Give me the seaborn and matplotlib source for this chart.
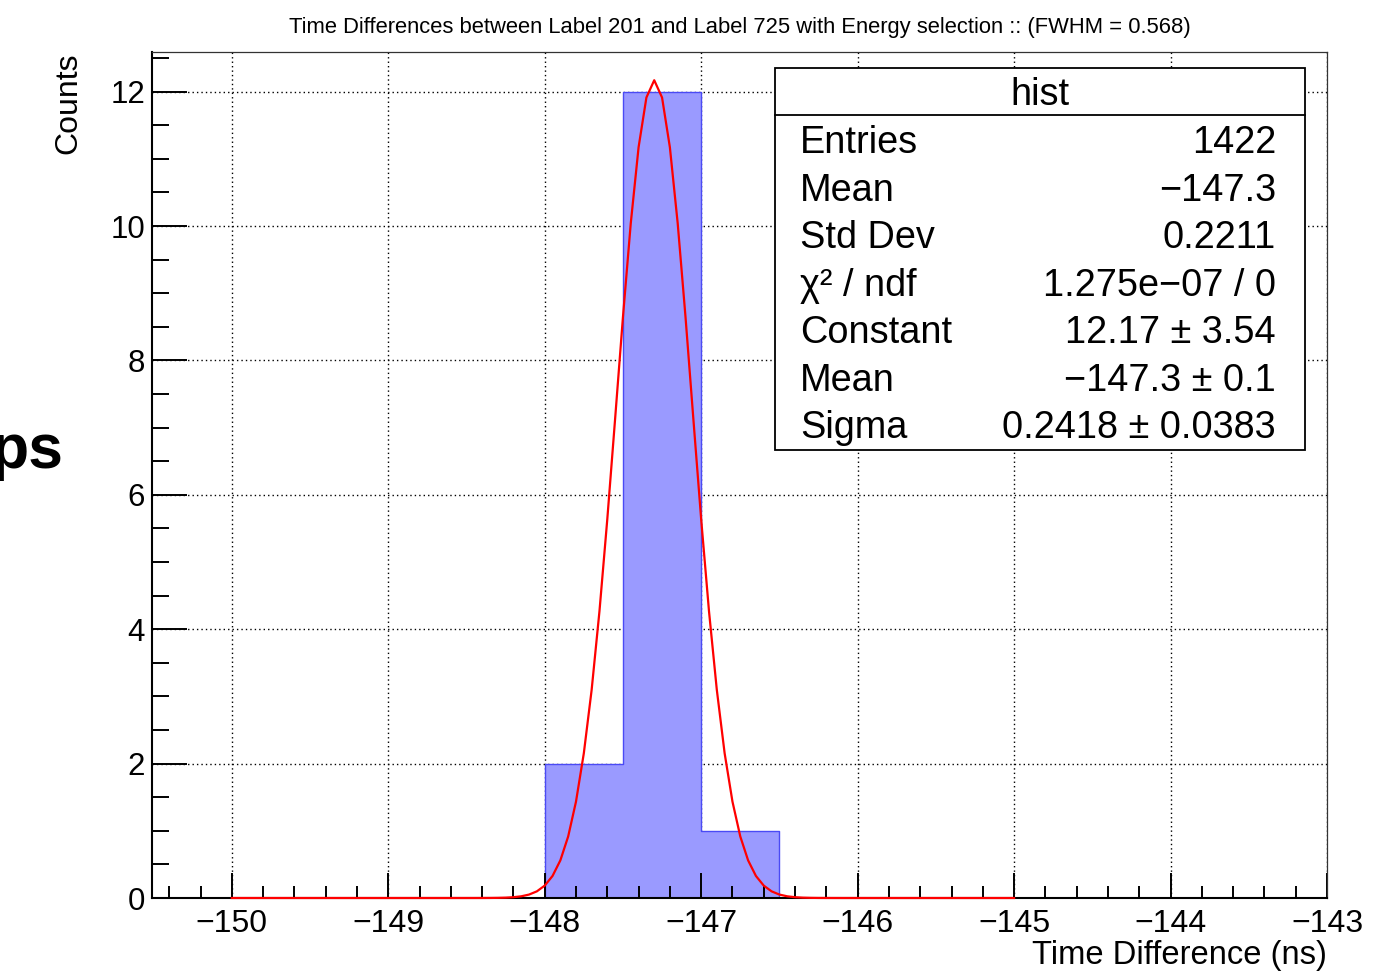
import numpy as np
import matplotlib
matplotlib.use("Agg")
import matplotlib.pyplot as plt
import seaborn as sns
from matplotlib.ticker import MultipleLocator
from matplotlib.patches import Rectangle
from matplotlib.lines import Line2D

# ---------------- data ----------------
bin_edges = [-148.0, -147.5, -147.0, -146.5]
bin_counts = [2, 12, 1]
fit_constant = 12.17
fit_mean = -147.3
fit_sigma = 0.2418
fit_range = [-150.0, -145.0]
fit_npx = 101

x_ticks = [-150, -149, -148, -147, -146, -145, -144, -143]
y_ticks = [0, 2, 4, 6, 8, 10, 12]

title = "Time Differences between Label 201 and Label 725 with Energy selection :: (FWHM = 0.568)"
x_label = "Time Difference (ns)"
y_label = "Counts"
stats_title = "hist"
stats_names = ["Entries", "Mean", "Std Dev", "\u03c7\u00b2 / ndf", "Constant", "Mean", "Sigma"]
stats_values = ["1422", "\u2212147.3", "0.2211", "1.275e\u221207 / 0",
                "12.17 \u00b1 3.54", "\u2212147.3 \u00b1 0.1", "0.2418 \u00b1 0.0383"]

# ---------------- style ----------------
plt.rcParams['font.family'] = ['Liberation Sans', 'DejaVu Sans']
W, H = 1374, 973
fig = plt.figure(figsize=(W / 100, H / 100), dpi=100)
fig.patch.set_facecolor('white')

def fx(px):
    return px / W

def fy(py):
    return 1 - py / H

ax_l, ax_r, ax_t, ax_b = 152, 1327, 52, 898
ax = fig.add_axes([fx(ax_l), fy(ax_b), fx(ax_r - ax_l), (ax_b - ax_t) / H])

# grid (below the histogram)
for xv in x_ticks:
    ax.axvline(xv, color='black', linestyle=(0, (1, 2.2)), linewidth=1.0, zorder=0.5)
for yv in y_ticks[1:]:
    ax.axhline(yv, color='black', linestyle=(0, (1, 2.2)), linewidth=1.0, zorder=0.5)

# histogram
centers = [(bin_edges[i] + bin_edges[i + 1]) / 2 for i in range(len(bin_counts))]
sns.histplot(x=centers, weights=bin_counts, bins=bin_edges, element='step', fill=True,
             color='#9a9aff', alpha=1.0, edgecolor='#4a4af5', linewidth=1.0, ax=ax, zorder=1)

# fit curve
xf = np.linspace(fit_range[0], fit_range[1], fit_npx)
yf = fit_constant * np.exp(-0.5 * ((xf - fit_mean) / fit_sigma) ** 2)
sns.lineplot(x=xf, y=yf, color='red', linewidth=1.6, ax=ax, zorder=3, sort=False)
for ln in ax.lines[-1:]:
    ln.set_clip_on(False)

ax.set_xlim(-150.51, -143.0)
ax.set_ylim(0, 12.59)
ax.set_xticks(x_ticks)
ax.set_yticks(y_ticks)
ax.xaxis.set_minor_locator(MultipleLocator(0.2))
ax.yaxis.set_minor_locator(MultipleLocator(0.5))
ax.tick_params(axis='x', which='major', direction='in', length=18, width=1.4, labelsize=23, pad=8,
               top=False)
ax.tick_params(axis='x', which='minor', direction='in', length=9, width=1.4, top=False)
ax.tick_params(axis='y', which='major', direction='in', length=25, width=1.4, labelsize=22.5, pad=5,
               right=False)
ax.tick_params(axis='y', which='minor', direction='in', length=12.5, width=1.4, right=False)

for s in ['left', 'bottom']:
    ax.spines[s].set_linewidth(1.5)
for s in ['top', 'right']:
    ax.spines[s].set_linewidth(0.9)
    ax.spines[s].set_color('#333333')

ax.set_xlabel(x_label, fontsize=23.6, loc='right')
ax.xaxis.set_label_coords(1.0, -0.050)
ax.set_ylabel(y_label, fontsize=23, loc='top')
ax.yaxis.set_label_coords(-0.058, 1.0)

# title
fig.text(fx(740), fy(28), title, ha='center', va='center', fontsize=15.8)

# stats box
bx0, bx1, by0, by1, bsep = 775, 1305, 68, 450, 115
fig.add_artist(Rectangle((fx(bx0), fy(by1)), fx(bx1 - bx0), (by1 - by0) / H,
                         transform=fig.transFigure, facecolor='white', edgecolor='black',
                         linewidth=1.3, zorder=5))
fig.add_artist(Line2D([fx(bx0), fx(bx1)], [fy(bsep), fy(bsep)], transform=fig.transFigure,
                      color='black', linewidth=1.3, zorder=6))
fig.text(fx((bx0 + bx1) / 2), fy(105), stats_title, ha='center', va='baseline', fontsize=27.3, zorder=7)
baselines = [153, 201, 248, 296, 343, 391, 438]
for name, val, b in zip(stats_names, stats_values, baselines):
    fig.text(fx(800), fy(b), name, ha='left', va='baseline', fontsize=27.3, zorder=7)
    fig.text(fx(1276), fy(b), val, ha='right', va='baseline', fontsize=27.3, zorder=7)

# partially visible text from the underlying page (cut at the left edge as in the reference)
fig.text(fx(64), fy(468), "ps", ha='right', va='baseline', fontsize=45, fontweight='bold')

fig.savefig('out.png', dpi=100)
